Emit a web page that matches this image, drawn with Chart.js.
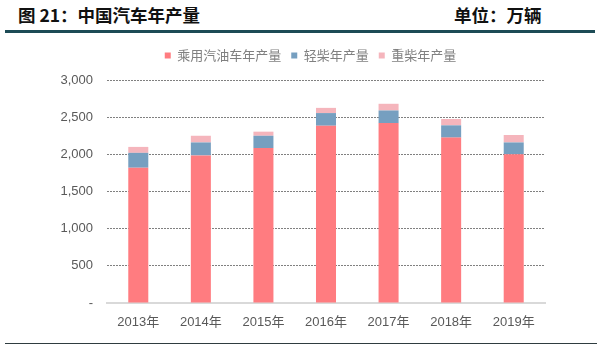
<!DOCTYPE html>
<html>
<head>
<meta charset="utf-8">
<script src="https://cdn.jsdelivr.net/npm/chart.js@4/dist/chart.umd.min.js"></script>
<style>
  html, body { margin: 0; padding: 0; background: #fff; }
  #wrap { position: relative; width: 600px; height: 347px; overflow: hidden; }
  .head { position: absolute; top: 5px; font: bold 17.5px "Noto Sans CJK SC", sans-serif; color: #111; line-height: 20px; }
  #title { left: 18px; }
  #unit { left: 454px; }
  #topRule { position: absolute; left: 5px; top: 30px; width: 590px; height: 2.5px; background: #1d4b56; }
  #bottomRule { position: absolute; left: 5px; top: 342.5px; width: 592px; height: 1.5px; background: #2f3d40; }
  #box { position: absolute; left: 0; top: 0; width: 600px; height: 347px; }
</style>
</head>
<body>
<div id="wrap">
  <div class="head" id="title">图 21：中国汽车年产量</div>
  <div class="head" id="unit">单位：万辆</div>
  <div id="topRule"></div>
  <div id="box"><canvas id="chart"></canvas></div>
  <div id="bottomRule"></div>
</div>
<script>
// 中国汽车年产量（万辆）
const YEARS = ['2013年', '2014年', '2015年', '2016年', '2017年', '2018年', '2019年'];
const GASOLINE = [1820, 1985, 2085, 2385, 2420, 2225, 2000];   // 乘用汽油车年产量
const LIGHT_DIESEL = [200, 175, 165, 170, 170, 165, 160];     // 轻柴年产量
const HEAVY_DIESEL = [80, 90, 55, 70, 90, 85, 100];           // 重柴年产量
const Y_TICK_LABELS = ['-', '500', '1,000', '1,500', '2,000', '2,500', '3,000'];

const TICK_COLOR = '#595959';
const GRID_COLOR = '#808080';

Chart.defaults.font.family = '"Liberation Sans", Arial, "Noto Sans CJK SC", sans-serif';

// 图例下方留白加大，并整体右移到绘图区中间
const legendTweak = {
  id: 'legendTweak',
  beforeUpdate(chart) {
    const lg = chart.legend;
    if (!lg || lg._tweaked) return;
    const fit = lg.fit;
    lg.fit = function () { fit.call(this); this.height += 8; };
    lg._tweaked = true;
  },
  afterLayout(chart) {
    const lg = chart.legend;
    if (!lg) return;
    lg.left += 38;
    lg.right += 38;
  },
};

function buildDatasets() {
  const base = { stack: 'a', barPercentage: 0.32, categoryPercentage: 1, borderWidth: 0 };
  return [
    { ...base, label: '乘用汽油车年产量', data: GASOLINE, backgroundColor: '#ff7c80' },
    { ...base, label: '轻柴年产量', data: LIGHT_DIESEL, backgroundColor: '#769fc0' },
    { ...base, label: '重柴年产量', data: HEAVY_DIESEL, backgroundColor: '#f5b5bc' },
  ];
}

new Chart(document.getElementById('chart').getContext('2d'), {
  type: 'bar',
  data: { labels: YEARS, datasets: buildDatasets() },
  plugins: [legendTweak],
  options: {
    responsive: true,
    maintainAspectRatio: false,
    animation: false,
    layout: { padding: { top: 39, right: 55, left: 0, bottom: 0 } },
    plugins: {
      tooltip: { enabled: false },
      legend: {
        position: 'top',
        labels: {
          boxWidth: 6,
          boxHeight: 6,
          padding: 10,
          color: '#808080',
          font: { size: 13, family: '"Noto Sans CJK SC", sans-serif' },
        },
      },
    },
    scales: {
      x: {
        stacked: true,
        grid: { display: false, drawTicks: false },
        border: { display: true, color: '#d9d9d9', width: 2 },
        ticks: { color: TICK_COLOR, font: { size: 13 }, padding: 12, maxRotation: 0 },
        afterFit: s => { s.height = 44; },
      },
      y: {
        stacked: true,
        min: 0,
        max: 3000,
        grid: {
          drawTicks: false,
          color: ctx => (ctx.tick && ctx.tick.value === 0 ? 'rgba(0,0,0,0)' : GRID_COLOR),
          lineWidth: 1,
        },
        border: { display: false, dash: [2, 1] },
        ticks: {
          stepSize: 500,
          color: TICK_COLOR,
          font: { size: 13 },
          padding: 14,
          callback: v => Y_TICK_LABELS[v / 500],
        },
        afterFit: s => { s.width = 107; },
      },
    },
  },
});
</script>
</body>
</html>
